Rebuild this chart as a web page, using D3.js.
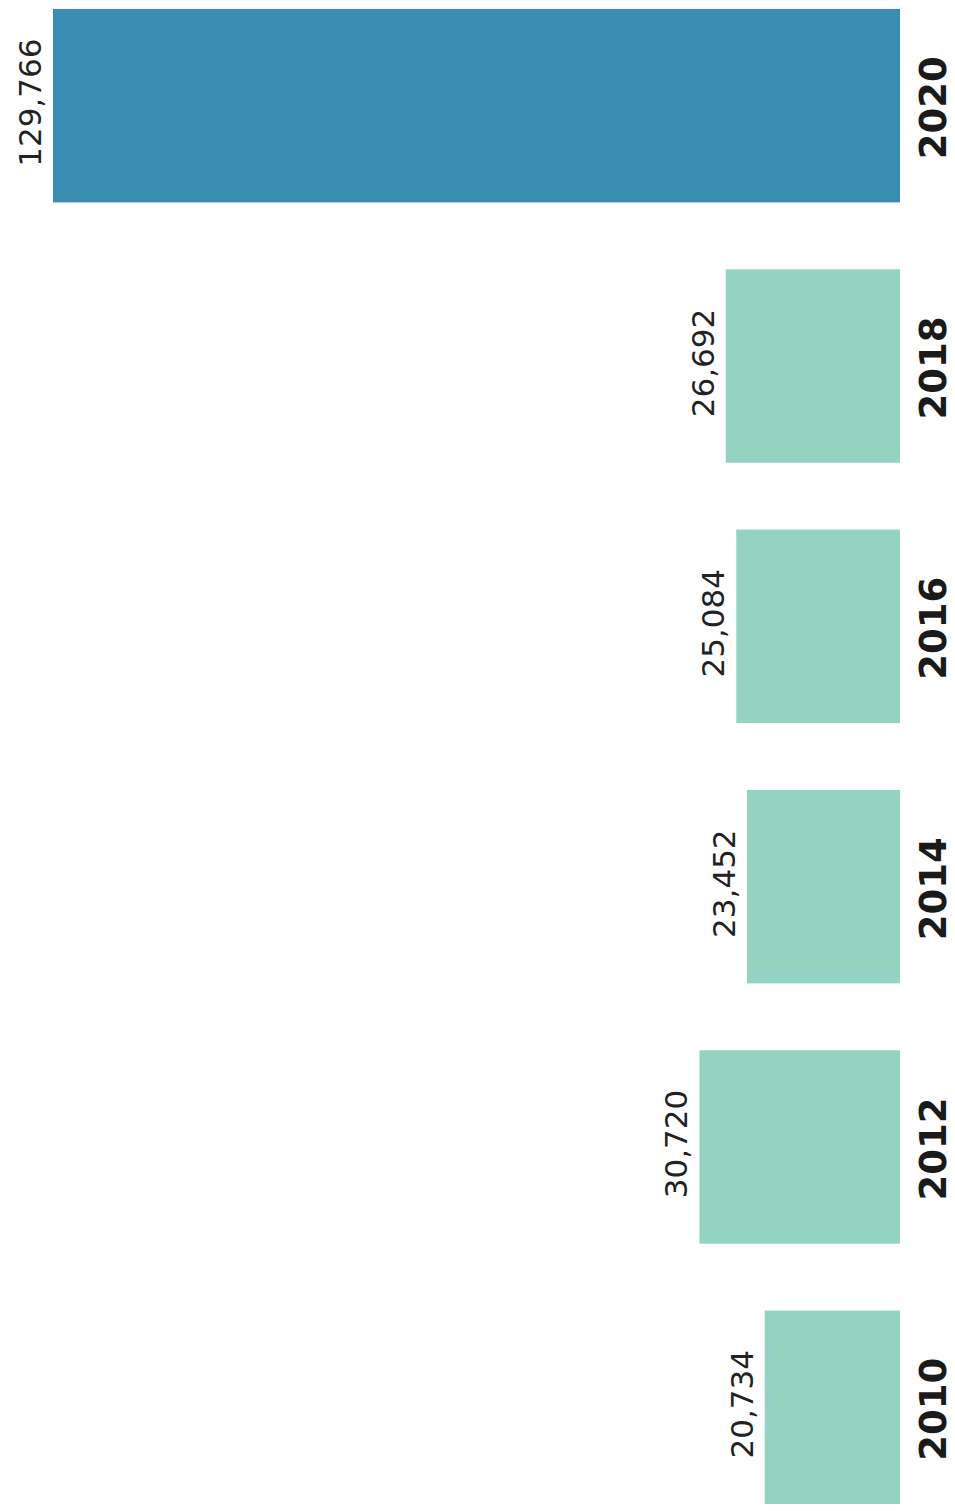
<!DOCTYPE html>
<html><head><meta charset="utf-8">
<script src="https://cdn.jsdelivr.net/npm/d3@7"></script>
<style>html,body{margin:0;padding:0;background:#fff;}svg{display:block;}</style>
</head><body>
<script>
const years = ["2020","2018","2016","2014","2012","2010"];
const values = [129766, 26692, 25084, 23452, 30720, 20734];
const highlight = ["2020"];

const W = 955, H = 1511;
const baseX = 900;
const svg = d3.select("body").append("svg").attr("width", W).attr("height", H);

const y = d3.scaleBand().domain(years).range([9, 1504]).paddingInner(0.257).paddingOuter(0);
const len = d3.scaleLinear().domain([0, d3.max(values)]).range([0, 847]);
const fmt = d3.format(",");

const data = years.map((yr, i) => ({year: yr, value: values[i]}));

svg.selectAll("rect.bar").data(data).join("rect")
  .attr("class", "bar")
  .attr("x", d => baseX - len(d.value))
  .attr("y", d => y(d.year))
  .attr("width", d => len(d.value))
  .attr("height", y.bandwidth())
  .attr("fill", d => highlight.includes(d.year) ? "#3a8cb1" : "#94d2c1");

svg.selectAll("text.val").data(data).join("text")
  .attr("class", "val")
  .attr("transform", d => `translate(${baseX - len(d.value) - 12},${y(d.year) + y.bandwidth()/2 - 3}) rotate(-90)`)
  .attr("text-anchor", "middle")
  .attr("font-family", "DejaVu Sans, sans-serif")
  .attr("font-size", 31)
  .attr("fill", "#222")
  .text(d => fmt(d.value));

svg.selectAll("text.yr").data(data).join("text")
  .attr("class", "yr")
  .attr("transform", d => `translate(946,${y(d.year) + y.bandwidth()/2 + 2}) rotate(-90)`)
  .attr("text-anchor", "middle")
  .attr("font-family", "DejaVu Sans, sans-serif")
  .attr("font-weight", "bold")
  .attr("font-size", 37)
  .attr("fill", "#1a1a1a")
  .text(d => d.year);
</script>
</body></html>
